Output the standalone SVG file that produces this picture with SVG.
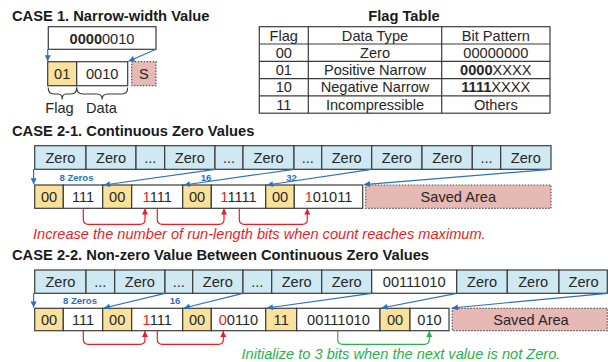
<svg xmlns="http://www.w3.org/2000/svg" width="608" height="362" viewBox="0 0 608 362">
  <defs>
    <style>
      text { font-family: "Liberation Sans", Arial, sans-serif; font-size: 14.6px; fill: #262626; }
      .title { font-weight: bold; fill: #1a1a1a; font-size: 14.7px; }
      .c { text-anchor: middle; }
      .b { font-weight: bold; }
      .red { fill: #ec1c24; }
      .cell { stroke: #3b3b3b; stroke-width: 1.2; }
      .zero { fill: #cfe9f3; }
      .flag { fill: #fbe29c; }
      .data { fill: #ffffff; }
      .saved { fill: #e6b9b5; stroke: #555; stroke-width: 1.2; stroke-dasharray: 1.5 1.5; }
      .blue { stroke: #2a72bd; stroke-width: 1.2; fill: none; }
      .lbl { font-size: 9.6px; font-weight: bold; fill: #2a72bd; }
      .rb { stroke: #ec1c24; stroke-width: 1.2; fill: none; }
      .gb { stroke: #25b34b; stroke-width: 1.2; fill: none; }
      .note { font-style: italic; }
      .tbl { stroke: #3b3b3b; stroke-width: 1.2; fill: none; }
    </style>
    <marker id="ah-blue" viewBox="0 0 10 10" refX="10" refY="5" markerWidth="7" markerHeight="6" orient="auto" markerUnits="userSpaceOnUse">
      <path d="M0,0 L10,5 L0,10 z" fill="#2a72bd"/>
    </marker>
    <marker id="ah-red" viewBox="0 0 10 10" refX="10" refY="5" markerWidth="7" markerHeight="6" orient="auto" markerUnits="userSpaceOnUse">
      <path d="M0,0 L10,5 L0,10 z" fill="#ec1c24"/>
    </marker>
    <marker id="ah-green" viewBox="0 0 10 10" refX="10" refY="5" markerWidth="7" markerHeight="6" orient="auto" markerUnits="userSpaceOnUse">
      <path d="M0,0 L10,5 L0,10 z" fill="#25b34b"/>
    </marker>
  </defs>

  <rect width="608" height="362" fill="#ffffff"/>

  <!-- ===== CASE 1 ===== -->
  <text class="title" x="12" y="21">CASE 1. Narrow-width Value</text>

  <g id="c1-value">
    <rect class="cell data" x="48.3" y="26.7" width="107.7" height="22.6"/>
    <text class="c" x="102" y="43.5"><tspan class="b">0000</tspan>0010</text>
  </g>
  <g id="c1-flag">
    <rect class="cell flag" x="47.7" y="61.7" width="29" height="24"/>
    <text class="c" x="62.2" y="78.7">01</text>
  </g>
  <g id="c1-data">
    <rect class="cell data" x="76.7" y="61.7" width="51" height="24"/>
    <text class="c" x="102.2" y="78.7">0010</text>
  </g>
  <g id="c1-sign">
    <rect class="saved" x="131.7" y="61.7" width="24.3" height="24"/>
    <text class="c" x="143.8" y="78.7">S</text>
  </g>
  <g id="c1-braces">
    <path d="M48.2,87.5 Q48.2,94 54,94 H58.5 Q62.2,94 62.2,99.5 Q62.2,94 66,94 H71 Q76.7,94 76.7,87.5" fill="none" stroke="#3b3b3b" stroke-width="1.1"/>
    <path d="M76.7,87.5 Q76.7,94 83,94 H97 Q102.2,94 102.2,99.5 Q102.2,94 107.5,94 H121.5 Q127.7,94 127.7,87.5" fill="none" stroke="#3b3b3b" stroke-width="1.1"/>
    <text class="c" x="59.5" y="113">Flag</text>
    <text class="c" x="101.5" y="113">Data</text>
  </g>
  <g id="c1-connectors">
    <line class="blue" x1="47.7" y1="49.3" x2="47.7" y2="61.2" marker-end="url(#ah-blue)"/>
    <line class="blue" x1="156" y1="49.3" x2="128.5" y2="61.2" marker-end="url(#ah-blue)"/>
  </g>

  <!-- ===== Flag table ===== -->
  <g id="flag-table">
    <text class="title c" x="404" y="21">Flag Table</text>
    <rect class="tbl" x="259.3" y="26.7" width="290.7" height="86.5"/>
    <line class="tbl" x1="259.3" y1="44" x2="550" y2="44"/>
    <line class="tbl" x1="259.3" y1="61.3" x2="550" y2="61.3"/>
    <line class="tbl" x1="259.3" y1="78.6" x2="550" y2="78.6"/>
    <line class="tbl" x1="259.3" y1="95.9" x2="550" y2="95.9"/>
    <line class="tbl" x1="308.3" y1="26.7" x2="308.3" y2="113.2"/>
    <line class="tbl" x1="441.7" y1="26.7" x2="441.7" y2="113.2"/>
    <text class="c" x="283.8" y="40.5">Flag</text>
    <text class="c" x="375" y="40.5">Data Type</text>
    <text class="c" x="495.8" y="40.5">Bit Pattern</text>
    <text class="c" x="283.8" y="57.8">00</text>
    <text class="c" x="375" y="57.8">Zero</text>
    <text class="c" x="495.8" y="57.8">00000000</text>
    <text class="c" x="283.8" y="75.1">01</text>
    <text class="c" x="375" y="75.1">Positive Narrow</text>
    <text class="c" x="495.8" y="75.1"><tspan class="b">0000</tspan>XXXX</text>
    <text class="c" x="283.8" y="92.4">10</text>
    <text class="c" x="375" y="92.4">Negative Narrow</text>
    <text class="c" x="495.8" y="92.4"><tspan class="b">1111</tspan>XXXX</text>
    <text class="c" x="283.8" y="109.7">11</text>
    <text class="c" x="375" y="109.7">Incompressible</text>
    <text class="c" x="495.8" y="109.7">Others</text>
  </g>

  <!-- ===== CASE 2-1 ===== -->
  <text class="title" x="12" y="135.5">CASE 2-1. Continuous Zero Values</text>

  <g id="c21-input">
    <rect class="cell zero" x="34.7" y="145.7" width="51.3" height="23.6"/>
    <rect class="cell zero" x="86" y="145.7" width="50" height="23.6"/>
    <rect class="cell zero" x="136" y="145.7" width="28.7" height="23.6"/>
    <rect class="cell zero" x="164.7" y="145.7" width="50.3" height="23.6"/>
    <rect class="cell zero" x="215" y="145.7" width="28" height="23.6"/>
    <rect class="cell zero" x="243" y="145.7" width="51" height="23.6"/>
    <rect class="cell zero" x="294" y="145.7" width="27.7" height="23.6"/>
    <rect class="cell zero" x="321.7" y="145.7" width="50" height="23.6"/>
    <rect class="cell zero" x="371.7" y="145.7" width="50.3" height="23.6"/>
    <rect class="cell zero" x="422" y="145.7" width="50.3" height="23.6"/>
    <rect class="cell zero" x="472.3" y="145.7" width="28.4" height="23.6"/>
    <rect class="cell zero" x="500.7" y="145.7" width="50.3" height="23.6"/>
    <text class="c" x="60.4" y="162.7">Zero</text>
    <text class="c" x="111" y="162.7">Zero</text>
    <text class="c" x="150.3" y="162.7">...</text>
    <text class="c" x="189.8" y="162.7">Zero</text>
    <text class="c" x="229" y="162.7">...</text>
    <text class="c" x="268.5" y="162.7">Zero</text>
    <text class="c" x="307.8" y="162.7">...</text>
    <text class="c" x="346.7" y="162.7">Zero</text>
    <text class="c" x="396.8" y="162.7">Zero</text>
    <text class="c" x="447.2" y="162.7">Zero</text>
    <text class="c" x="486.5" y="162.7">...</text>
    <text class="c" x="525.8" y="162.7">Zero</text>
  </g>

  <g id="c21-output">
    <rect class="cell flag" x="34.7" y="185" width="28.6" height="23.3"/>
    <rect class="cell data" x="63.3" y="185" width="39.4" height="23.3"/>
    <rect class="cell flag" x="102.7" y="185" width="29" height="23.3"/>
    <rect class="cell data" x="131.7" y="185" width="51" height="23.3"/>
    <rect class="cell flag" x="182.7" y="185" width="28.6" height="23.3"/>
    <rect class="cell data" x="211.3" y="185" width="54.4" height="23.3"/>
    <rect class="cell flag" x="265.7" y="185" width="28.6" height="23.3"/>
    <rect class="cell data" x="294.3" y="185" width="68.4" height="23.3"/>
    <text class="c" x="49" y="201.8">00</text>
    <text class="c" x="83" y="201.8">111</text>
    <text class="c" x="117.2" y="201.8">00</text>
    <text class="c" x="157.2" y="201.8"><tspan class="red">1</tspan>111</text>
    <text class="c" x="197" y="201.8">00</text>
    <text class="c" x="238.5" y="201.8"><tspan class="red">1</tspan>1111</text>
    <text class="c" x="280" y="201.8">00</text>
    <text class="c" x="328.5" y="201.8"><tspan class="red">1</tspan>01011</text>
  </g>

  <g id="c21-saved">
    <rect class="saved" x="365.7" y="185" width="185.3" height="23.3"/>
    <text class="c" x="458.3" y="201.8">Saved Area</text>
  </g>

  <g id="c21-connectors">
    <line class="blue" x1="33.6" y1="169.3" x2="33.6" y2="184.2" marker-end="url(#ah-blue)"/>
    <line class="blue" x1="215" y1="169.3" x2="104" y2="185" marker-end="url(#ah-blue)"/>
    <line class="blue" x1="294" y1="169.3" x2="184" y2="185" marker-end="url(#ah-blue)"/>
    <line class="blue" x1="371.7" y1="169.3" x2="267" y2="185" marker-end="url(#ah-blue)"/>
    <line class="blue" x1="551" y1="169.3" x2="364" y2="184.6" marker-end="url(#ah-blue)"/>
    <text class="lbl c" x="76.5" y="180.6">8 Zeros</text>
    <text class="lbl c" x="206" y="180.6">16</text>
    <text class="lbl c" x="291.5" y="180.6">32</text>
    <path class="rb" d="M83.3,208.3 V219.5 Q83.3,224.3 88.3,224.3 H140 Q145,224.3 145,219.5 V208.6" marker-end="url(#ah-red)"/>
    <path class="rb" d="M157.3,208.3 V219.5 Q157.3,224.3 162.3,224.3 H219 Q224,224.3 224,219.5 V208.6" marker-end="url(#ah-red)"/>
    <path class="rb" d="M239.3,208.3 V219.5 Q239.3,224.3 244.3,224.3 H302.3 Q307.3,224.3 307.3,219.5 V208.6" marker-end="url(#ah-red)"/>
  </g>
  <text class="note red" x="33" y="238.8">Increase the number of run-length bits when count reaches maximum.</text>

  <!-- ===== CASE 2-2 ===== -->
  <text class="title" x="12" y="259.5">CASE 2-2. Non-zero Value Between Continuous Zero Values</text>

  <g id="c22-input">
    <rect class="cell zero" x="34.7" y="270" width="51.3" height="23.3"/>
    <rect class="cell zero" x="86" y="270" width="28.7" height="23.3"/>
    <rect class="cell zero" x="114.7" y="270" width="50.3" height="23.3"/>
    <rect class="cell zero" x="165" y="270" width="27.7" height="23.3"/>
    <rect class="cell zero" x="192.7" y="270" width="50.3" height="23.3"/>
    <rect class="cell zero" x="243" y="270" width="28.7" height="23.3"/>
    <rect class="cell zero" x="271.7" y="270" width="50" height="23.3"/>
    <rect class="cell zero" x="321.7" y="270" width="50" height="23.3"/>
    <rect class="cell data" x="371.7" y="270" width="85" height="23.3"/>
    <rect class="cell zero" x="456.7" y="270" width="50.6" height="23.3"/>
    <rect class="cell zero" x="507.3" y="270" width="51.7" height="23.3"/>
    <rect class="cell zero" x="559" y="270" width="48.3" height="23.3"/>
    <text class="c" x="60.4" y="286.8">Zero</text>
    <text class="c" x="100.3" y="286.8">...</text>
    <text class="c" x="139.8" y="286.8">Zero</text>
    <text class="c" x="178.8" y="286.8">...</text>
    <text class="c" x="217.8" y="286.8">Zero</text>
    <text class="c" x="257.3" y="286.8">...</text>
    <text class="c" x="296.7" y="286.8">Zero</text>
    <text class="c" x="346.7" y="286.8">Zero</text>
    <text class="c" x="414.2" y="286.8">00111010</text>
    <text class="c" x="482" y="286.8">Zero</text>
    <text class="c" x="533.2" y="286.8">Zero</text>
    <text class="c" x="583.5" y="286.8">Zero</text>
  </g>

  <g id="c22-output">
    <rect class="cell flag" x="34.7" y="308.3" width="28.6" height="22.4"/>
    <rect class="cell data" x="63.3" y="308.3" width="39.4" height="22.4"/>
    <rect class="cell flag" x="102.7" y="308.3" width="29" height="22.4"/>
    <rect class="cell data" x="131.7" y="308.3" width="51" height="22.4"/>
    <rect class="cell flag" x="182.7" y="308.3" width="28.6" height="22.4"/>
    <rect class="cell data" x="211.3" y="308.3" width="54.4" height="22.4"/>
    <rect class="cell flag" x="265.7" y="308.3" width="31" height="22.4"/>
    <rect class="cell data" x="296.7" y="308.3" width="83.3" height="22.4"/>
    <rect class="cell flag" x="380" y="308.3" width="30" height="22.4"/>
    <rect class="cell data" x="410" y="308.3" width="39" height="22.4"/>
    <text class="c" x="49" y="324.6">00</text>
    <text class="c" x="83" y="324.6">111</text>
    <text class="c" x="117.2" y="324.6">00</text>
    <text class="c" x="157.2" y="324.6"><tspan class="red">1</tspan>111</text>
    <text class="c" x="197" y="324.6">00</text>
    <text class="c" x="238.5" y="324.6"><tspan class="red">0</tspan>0110</text>
    <text class="c" x="281.2" y="324.6">11</text>
    <text class="c" x="338.4" y="324.6">00111010</text>
    <text class="c" x="395" y="324.6">00</text>
    <text class="c" x="429.5" y="324.6">010</text>
  </g>

  <g id="c22-saved">
    <rect class="saved" x="452.3" y="308.3" width="155" height="22.4"/>
    <text class="c" x="531" y="324.6">Saved Area</text>
  </g>

  <g id="c22-connectors">
    <line class="blue" x1="33.6" y1="293.3" x2="33.6" y2="307.5" marker-end="url(#ah-blue)"/>
    <line class="blue" x1="165" y1="293.3" x2="104" y2="308" marker-end="url(#ah-blue)"/>
    <line class="blue" x1="243" y1="293.3" x2="184" y2="308" marker-end="url(#ah-blue)"/>
    <line class="blue" x1="371.7" y1="293.3" x2="267" y2="308" marker-end="url(#ah-blue)"/>
    <line class="blue" x1="456.7" y1="293.3" x2="381.5" y2="308" marker-end="url(#ah-blue)"/>
    <line class="blue" x1="607.5" y1="293.3" x2="452" y2="308" marker-end="url(#ah-blue)"/>
    <text class="lbl c" x="80" y="304.3">8 Zeros</text>
    <text class="lbl c" x="175" y="304.3">16</text>
    <path class="rb" d="M83.3,330.7 V339.5 Q83.3,344.3 88.3,344.3 H140 Q145,344.3 145,339.5 V331" marker-end="url(#ah-red)"/>
    <path class="rb" d="M157.3,330.7 V339.5 Q157.3,344.3 162.3,344.3 H218.3 Q223.3,344.3 223.3,339.5 V331" marker-end="url(#ah-red)"/>
    <path class="gb" d="M337.7,330.7 V339.5 Q337.7,344.3 342.7,344.3 H424.3 Q429.3,344.3 429.3,339.5 V331" marker-end="url(#ah-green)"/>
  </g>
  <text class="note" x="241.5" y="358.5" style="fill:#25b34b">Initialize to 3 bits when the next value is not Zero.</text>
</svg>
